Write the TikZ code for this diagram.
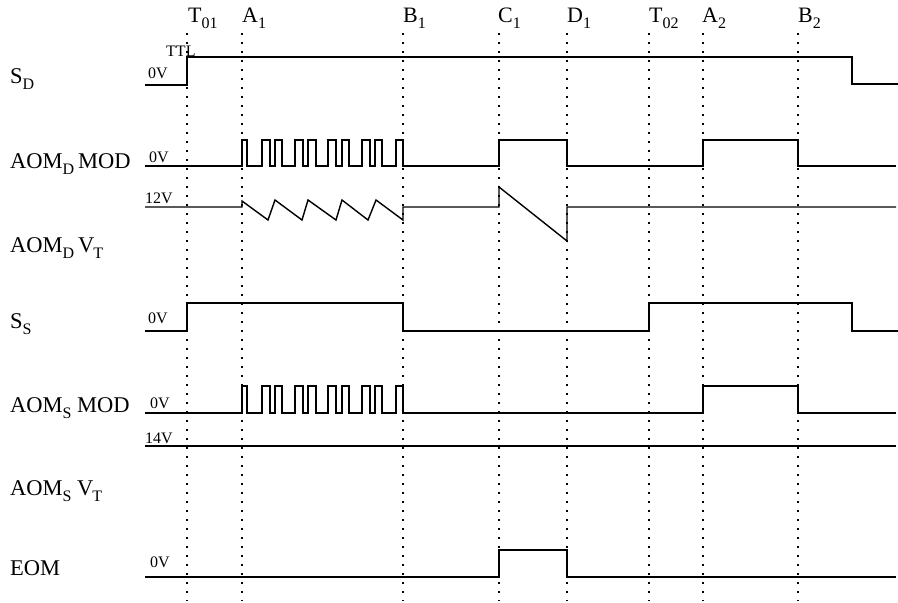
\documentclass[tikz,border=0pt]{standalone}
\usepackage{fontspec}
\setmainfont{Liberation Serif}
\newcommand\subs[1]{\raisebox{-6pt}{\fontsize{16}{16}\selectfont #1}}
\newcommand\tsub[1]{\raisebox{-6pt}{\fontsize{16}{16}\selectfont #1}}
\begin{document}
\begin{tikzpicture}[x=1pt,y=-1pt,
  sig/.style={line width=1.4pt, line join=miter},
  gridline/.style={line width=1.6pt, dash pattern=on 1.6pt off 7.4pt},
  lbl/.style={anchor=base west, inner sep=0pt, font=\fontsize{22.5}{22.5}\selectfont},
  toplbl/.style={anchor=base west, inner sep=0pt, font=\fontsize{22}{22}\selectfont},
  small/.style={anchor=base west, inner sep=0pt, font=\fontsize{16}{16}\selectfont}]
\useasboundingbox (0,0) rectangle (898,603);
% vertical dotted time markers
\foreach \n/\x in {t1/187,a1/242,b1/403,c1/499,d1/567,t2/649,a2/703,b2/798}{
  \coordinate (\n top) at (\x,33);
  \coordinate (\n bot) at (\x,601);
  \draw[gridline] (\n top) -- (\n bot);
}
% top labels
\node[toplbl] (lT1) at (188,22) {T\tsub{01}};
\node[toplbl] (lA1) at (242,22) {A\tsub{1}};
\node[toplbl] (lB1) at (403,22) {B\tsub{1}};
\node[toplbl] (lC1) at (498,22) {C\tsub{1}};
\node[toplbl] (lD1) at (567,22) {D\tsub{1}};
\node[toplbl] (lT2) at (649,22) {T\tsub{02}};
\node[toplbl] (lA2) at (702,22) {A\tsub{2}};
\node[toplbl] (lB2) at (798,22) {B\tsub{2}};
% left labels
\node[lbl] (sd) at (10,83) {S\subs{D}};
\node[lbl] (aomdmod) at (10,168) {AOM\subs{D}\,MOD};
\node[lbl] (aomdvt) at (10,252) {AOM\subs{D}\,V\kern-1pt\subs{T}};
\node[lbl] (ss) at (10,328) {S\subs{S}};
\node[lbl] (aomsmod) at (10,412) {AOM\subs{S} MOD};
\node[lbl] (aomsvt) at (10,495) {AOM\subs{S} V\kern-1pt\subs{T}};
\node[lbl] (eom) at (10,575) {EOM};
% level labels
\node[small] (ttl) at (166,56) {TTL};
\node[small] (v0a) at (148,78) {0V};
\node[small] (v0b) at (149,162) {0V};
\node[small] (v12) at (145,203) {12V};
\node[small] (v0c) at (148,323) {0V};
\node[small] (v0d) at (150,408) {0V};
\node[small] (v14) at (145,443) {14V};
\node[small] (v0e) at (150,567) {0V};
% S_D
\draw[sig] (145,85) -- (187,85) -- (187,57) -- (852,57) -- (852,84) -- (898,84);
% AOM_D MOD
\draw[sig] (145,166)
  foreach \a/\b in {242/247,262/270,275/282,295/303,308/316,328/336,342/349,362/370,375/382,396/403}
    { -- (\a,166) -- (\a,140) -- (\b,140) -- (\b,166) }
  -- (499,166) -- (499,140) -- (567,140) -- (567,166)
  -- (703,166) -- (703,140) -- (798,140) -- (798,166) -- (896,166);
% AOM_D V_T
\draw[sig] (145,207) -- (242,207) -- (242,201) -- (268,220) -- (275,200) -- (302,220)
  -- (308,200) -- (336,220) -- (342,200) -- (368,220) -- (376,200) -- (403,220)
  -- (403,207) -- (499,207) -- (499,187) -- (567,241) -- (567,207) -- (896,207);
% S_S
\draw[sig] (145,331) -- (187,331) -- (187,303) -- (403,303) -- (403,331) -- (649,331)
  -- (649,303) -- (852,303) -- (852,331) -- (898,331);
% AOM_S MOD
\draw[sig] (145,413)
  foreach \a/\b in {242/247,262/270,275/282,295/303,308/316,328/336,342/349,362/370,375/382,396/403}
    { -- (\a,413) -- (\a,386) -- (\b,386) -- (\b,413) }
  -- (703,413) -- (703,386) -- (798,386) -- (798,413) -- (896,413);
% AOM_S V_T
\draw[sig] (145,446) -- (896,446);
% EOM
\draw[sig] (145,577) -- (499,577) -- (499,550) -- (567,550) -- (567,577) -- (896,577);
\end{tikzpicture}
\end{document}
